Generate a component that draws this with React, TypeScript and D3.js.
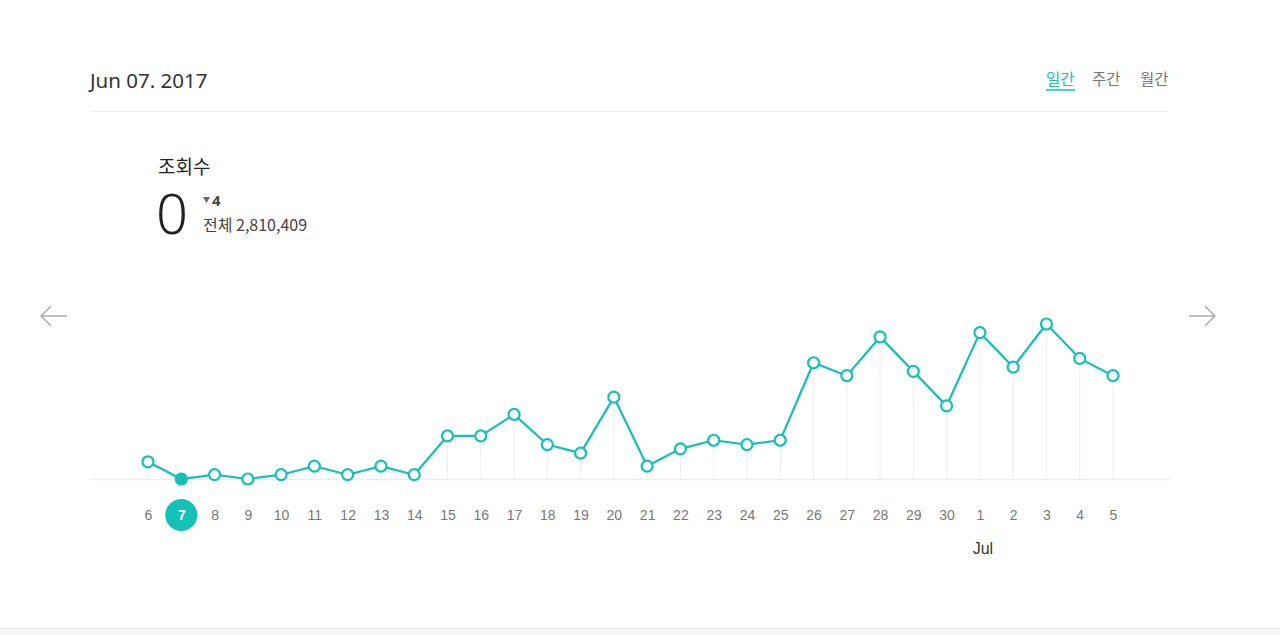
import React, { useEffect, useRef } from 'react';
import * as d3 from 'd3';

const days = ['6', '7', '8', '9', '10', '11', '12', '13', '14', '15', '16', '17', '18', '19', '20', '21', '22', '23', '24', '25', '26', '27', '28', '29', '30', '1', '2', '3', '4', '5'];
const views = [4, 0, 1, 0, 1, 3, 1, 3, 1, 10, 10, 15, 8, 6, 19, 3, 7, 9, 8, 9, 27, 24, 33, 25, 17, 34, 26, 36, 28, 24];
const selectedDay = '7';
const monthLabels = [{ day: '1', label: 'Jul' }];
const tabs = ['일간', '주간', '월간'];

const TEAL = '#14c1b6';
const W = 1280;
const H = 635;

const App: React.FC = () => {
  const svgRef = useRef<SVGSVGElement>(null);

  useEffect(() => {
    if (!svgRef.current) return;
    const svg = d3.select(svgRef.current);
    svg.selectAll('*').remove();

    const sans = '"Noto Sans", "Noto Sans CJK KR", sans-serif';
    const kr = '"Noto Sans CJK KR", "Noto Sans", sans-serif';

    // header
    svg.append('text')
      .attr('x', 90).attr('y', 88)
      .style('font-family', sans).style('font-size', '20.5px')
      .style('fill', '#333')
      .text('Jun 07. 2017');

    svg.append('line')
      .attr('x1', 90).attr('x2', 1168).attr('y1', 111.5).attr('y2', 111.5)
      .attr('stroke', '#f0f0f0');

    const tabX = [1046, 1092, 1140];
    tabs.forEach((t, i) => {
      svg.append('text')
        .attr('x', tabX[i]).attr('y', 85)
        .style('font-family', kr).style('font-size', '15.5px')
        .style('fill', i === 0 ? TEAL : '#777')
        .text(t);
    });
    svg.append('line')
      .attr('x1', 1046).attr('x2', 1075).attr('y1', 90).attr('y2', 90)
      .attr('stroke', TEAL).attr('stroke-width', 1.5);

    // summary
    svg.append('text')
      .attr('x', 158).attr('y', 174)
      .style('font-family', kr).style('font-size', '19px')
      .style('fill', '#222')
      .text('조회수');
    svg.append('text')
      .attr('x', 156).attr('y', 234)
      .style('font-family', sans).style('font-size', '56px').style('font-weight', 300)
      .style('fill', '#222')
      .text(String(views[days.indexOf(selectedDay)]));
    svg.append('path')
      .attr('d', 'M203,197 L210,197 L206.5,203 Z')
      .attr('fill', '#666');
    svg.append('text')
      .attr('x', 212).attr('y', 206)
      .style('font-family', sans).style('font-size', '15px').style('font-weight', 700)
      .style('fill', '#444')
      .text(String(views[days.indexOf(selectedDay) - 1] - views[days.indexOf(selectedDay)]));
    svg.append('text')
      .attr('x', 203).attr('y', 231)
      .style('font-family', kr).style('font-size', '16px')
      .style('fill', '#444')
      .text('전체 2,810,409');

    // arrows
    const arrow = (cx: number, dir: number) => {
      const g = svg.append('g').attr('stroke', '#aaa').attr('stroke-width', 1.5).attr('fill', 'none');
      g.append('line').attr('x1', cx - 13).attr('x2', cx + 13).attr('y1', 316).attr('y2', 316);
      const tip = cx - 13 * dir;
      g.append('path').attr('d', `M${tip + 10 * dir},306 L${tip},316 L${tip + 10 * dir},326`);
    };
    arrow(54, 1);
    arrow(1202, -1);

    // scales
    const x = d3.scalePoint<string>().domain(days).range([148, 1113]);
    const y = d3.scaleLinear().domain([0, d3.max(views) as number]).range([479, 324]);

    // baseline
    svg.append('line')
      .attr('x1', 90).attr('x2', 1170).attr('y1', 479.5).attr('y2', 479.5)
      .attr('stroke', '#eeeeee').attr('stroke-width', 1.5);

    // vertical drop lines
    svg.append('g').selectAll('line')
      .data(views)
      .enter().append('line')
      .attr('x1', (d, i) => x(days[i]) as number)
      .attr('x2', (d, i) => x(days[i]) as number)
      .attr('y1', d => y(d))
      .attr('y2', 479)
      .attr('stroke', '#eeeeee').attr('stroke-width', 1);

    const line = d3.line<number>()
      .x((d, i) => x(days[i]) as number)
      .y(d => y(d));
    svg.append('path')
      .datum(views)
      .attr('d', line)
      .attr('fill', 'none')
      .attr('stroke', TEAL)
      .attr('stroke-width', 2.2);

    svg.append('g').selectAll('circle')
      .data(views)
      .enter().append('circle')
      .attr('cx', (d, i) => x(days[i]) as number)
      .attr('cy', d => y(d))
      .attr('r', 5.5)
      .attr('fill', (d, i) => (days[i] === selectedDay ? TEAL : '#fff'))
      .attr('stroke', TEAL)
      .attr('stroke-width', 2.2);

    // x labels
    svg.append('circle')
      .attr('cx', x(selectedDay) as number).attr('cy', 515).attr('r', 16)
      .attr('fill', TEAL);
    svg.append('g').selectAll('text')
      .data(days)
      .enter().append('text')
      .attr('x', d => (x(d) as number) + 0.5)
      .attr('y', 520)
      .attr('text-anchor', 'middle')
      .style('font-family', '"Liberation Sans", Arial, sans-serif')
      .style('font-size', '14px')
      .style('font-weight', d => (d === selectedDay ? 700 : 400))
      .style('fill', d => (d === selectedDay ? '#fff' : '#777'))
      .text(d => d);

    monthLabels.forEach(m => {
      svg.append('text')
        .attr('x', (x(m.day) as number) + 3).attr('y', 554)
        .attr('text-anchor', 'middle')
        .style('font-family', '"Liberation Sans", Arial, sans-serif')
        .style('font-size', '16px')
        .style('fill', '#333')
        .text(m.label);
    });

    // bottom strip
    svg.append('rect').attr('x', 0).attr('y', 629).attr('width', W).attr('height', 6).attr('fill', '#f6f6f6');
    svg.append('line').attr('x1', 0).attr('x2', W).attr('y1', 628.5).attr('y2', 628.5).attr('stroke', '#e2e2e2');
  }, []);

  return (
    <svg
      ref={svgRef}
      width={W}
      height={H}
      style={{ position: 'absolute', left: 0, top: 0, display: 'block', background: '#fff' }}
    />
  );
};

export default App;
